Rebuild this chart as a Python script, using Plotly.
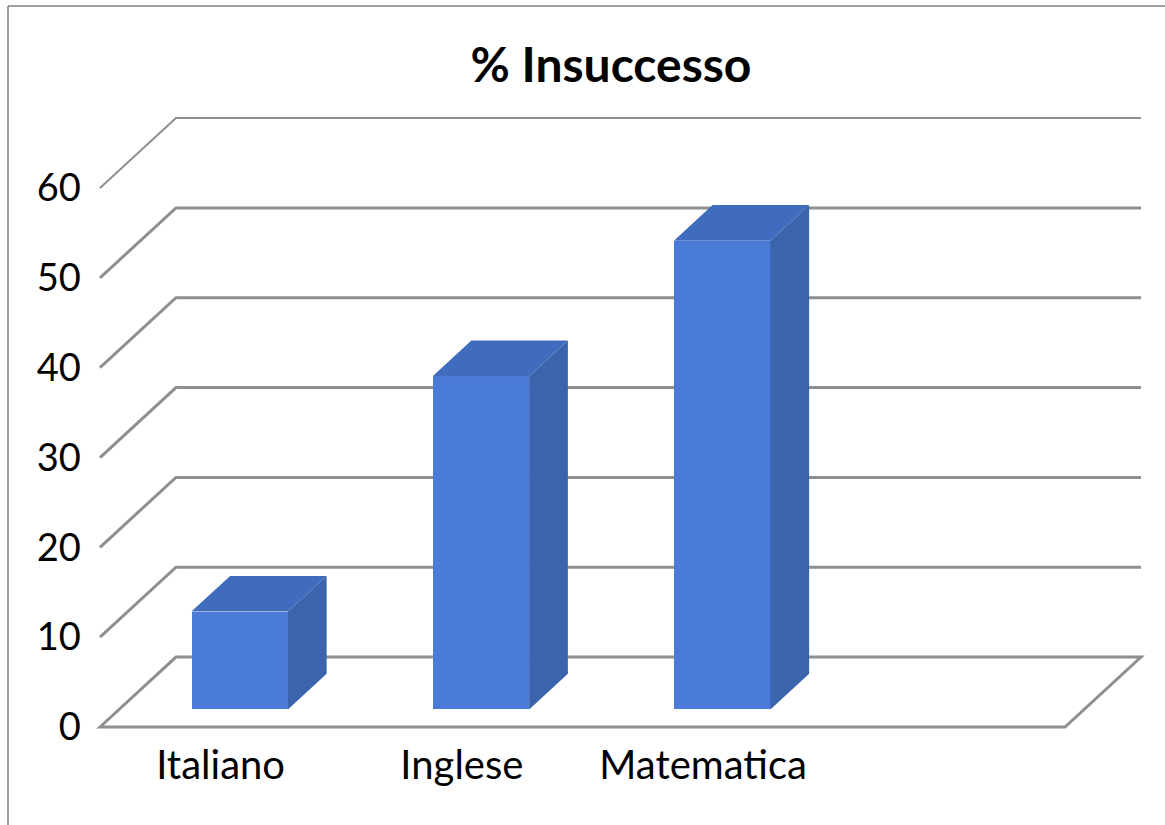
import plotly.graph_objects as go

categories = ["Italiano", "Inglese", "Matematica"]
values = [10.9, 37.1, 52.2]
y_ticks = [0, 10, 20, 30, 40, 50, 60]
title = "% Insuccesso"

W, H = 1165, 825
GRID = "#8f8f8f"
FRONT, TOP, SIDE = "#4b7bd8", "#3f6cbc", "#3a64ab"
FONT = "Lato"

# oblique projection of the wall depth, in axis units
DEPTH_X, DEPTH_Y = 0.315, 7.79
T0, T1 = 0.25, 0.76
BAR_W = 0.40
X_MIN, X_MAX = -0.5, 3.5

# pixel scale of the axes, with a small pad so edge lines are not clipped
PX_PER_CAT, PX_PER_UNIT = 241.25, 8.983
PAD_X, PAD_Y = 0.03, 1.0
X_LO, X_HI = X_MIN - PAD_X, X_MIN + 1041 / PX_PER_CAT + PAD_X
Y_LO, Y_HI = -PAD_Y, 67.8 + PAD_Y
LEFT_PX = 100 - PAD_X * PX_PER_CAT
RIGHT_PX = 1141 + PAD_X * PX_PER_CAT
BOTTOM_PX = 727 + PAD_Y * PX_PER_UNIT
TOP_PX = 118 - PAD_Y * PX_PER_UNIT


def px(x, t):
    return x + DEPTH_X * t


def py(y, t):
    return y + DEPTH_Y * t


fig = go.Figure()

fig.add_trace(go.Bar(
    x=[px(i, T0) for i in range(len(values))],
    y=values,
    base=[py(0, T0)] * len(values),
    width=BAR_W,
    marker=dict(color=FRONT, line=dict(width=0)),
    hoverinfo="skip",
    showlegend=False,
))

for i, v in enumerate(values):
    l, r = i - BAR_W / 2, i + BAR_W / 2
    # top face
    fig.add_trace(go.Scatter(
        x=[px(l, T0), px(r, T0), px(r, T1), px(l, T1), px(l, T0)],
        y=[py(v, T0), py(v, T0), py(v, T1), py(v, T1), py(v, T0)],
        fill="toself", fillcolor=TOP, mode="lines", line=dict(width=0),
        hoverinfo="skip", showlegend=False,
    ))
    # side face
    fig.add_trace(go.Scatter(
        x=[px(r, T0), px(r, T1), px(r, T1), px(r, T0), px(r, T0)],
        y=[py(0, T0), py(0, T1), py(v, T1), py(v, T0), py(0, T0)],
        fill="toself", fillcolor=SIDE, mode="lines", line=dict(width=0),
        hoverinfo="skip", showlegend=False,
    ))

shapes = []
for v in y_ticks:
    lw = 2 if v == y_ticks[-1] else 3
    path = (f"M {X_MIN} {py(v, 0)} L {px(X_MIN, 1)} {py(v, 1)} "
            f"L {px(X_MAX, 1)} {py(v, 1)}")
    if v == 0:
        path += f" L {px(X_MAX, 0)} {py(v, 0)} Z"
    shapes.append(dict(type="path", xref="x", yref="y", path=path, layer="below",
                       line=dict(color=GRID, width=lw)))
# chart frame
shapes.append(dict(type="line", xref="paper", yref="paper", x0=8 / W, x1=1, y0=1 - 6 / H, y1=1 - 6 / H,
                   line=dict(color="#808080", width=1.5)))
shapes.append(dict(type="line", xref="paper", yref="paper", x0=8 / W, x1=8 / W, y0=0, y1=1 - 6 / H,
                   line=dict(color="#808080", width=1.5)))

fig.update_layout(
    width=W, height=H,
    margin=dict(l=0, r=0, t=0, b=0, autoexpand=False),
    paper_bgcolor="white", plot_bgcolor="rgba(0,0,0,0)",
    font=dict(family=FONT, color="black"),
    title=dict(text=f"<b>{title}</b>", x=611 / W, xanchor="center", y=1 - 65 / H, yanchor="middle",
               font=dict(family=FONT, size=48, color="black")),
    shapes=shapes,
    bargap=0,
    xaxis=dict(domain=[LEFT_PX / W, RIGHT_PX / W], range=[X_LO, X_HI], tickvals=list(range(len(categories))),
               ticktext=categories, showgrid=False, zeroline=False, showline=False, ticks="",
               tickfont=dict(size=40), ticklabelstandoff=2),
    yaxis=dict(domain=[1 - BOTTOM_PX / H, 1 - TOP_PX / H], range=[Y_LO, Y_HI], tickvals=y_ticks,
               showgrid=False, zeroline=False, showline=False, ticks="",
               tickfont=dict(size=38), ticklabelstandoff=11),
)

fig.write_html("out.html", config=dict(displayModeBar=False),
               post_script="document.body.style.margin='0';document.documentElement.style.overflow='hidden';")
